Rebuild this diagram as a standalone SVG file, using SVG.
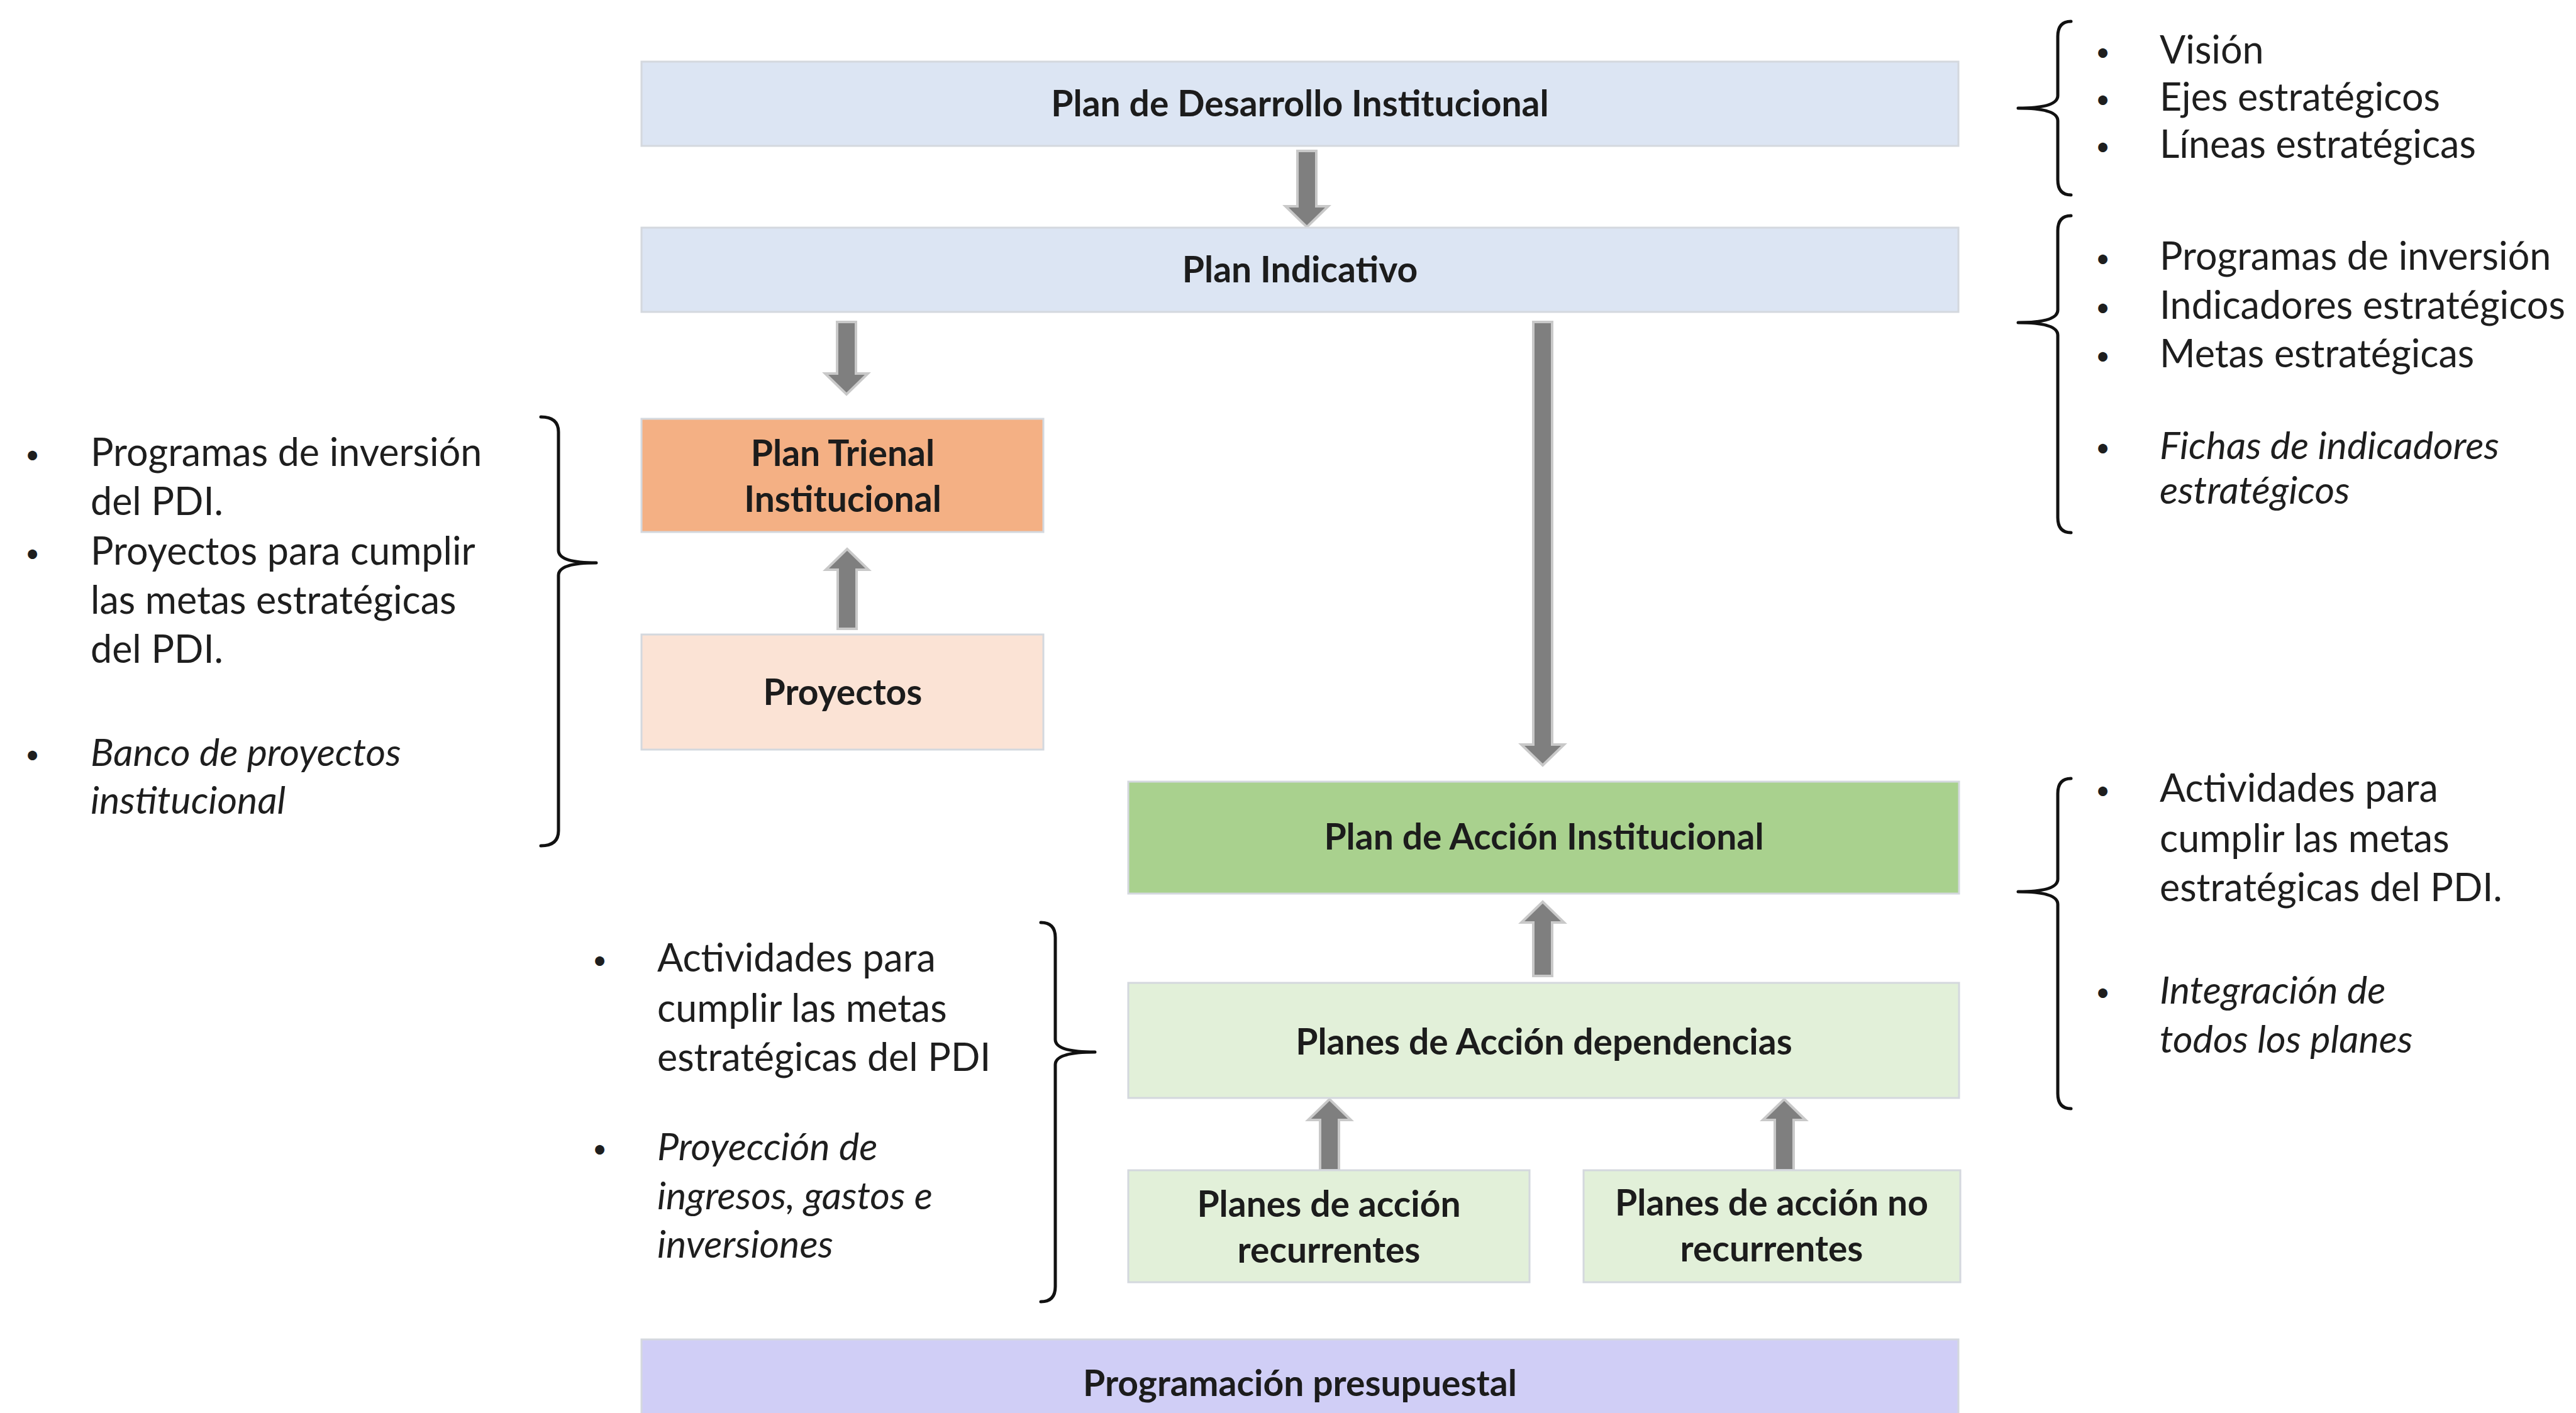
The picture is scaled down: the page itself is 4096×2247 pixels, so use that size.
<svg xmlns="http://www.w3.org/2000/svg" width="4096" height="2247" viewBox="0 0 4096 2247">
  <defs>
    <style>
      .box { stroke: #d4d8de; stroke-width: 3; }
      .blue { fill: #DCE5F3; }
      .orange { fill: #F4B084; }
      .peach { fill: #FBE3D5; }
      .green { fill: #A9D18E; }
      .pale { fill: #E2F0D9; }
      .lilac { fill: #D0CEF6; }
      .lbl { font-family: Lato, "Liberation Sans", sans-serif; font-weight: 700; font-size: 57px; fill: #1c1c1c; text-anchor: middle; }
      .side { font-family: Lato, "Liberation Sans", sans-serif; font-weight: 400; font-size: 61px; fill: #1e1e1e; }
      .bul { font-size: 40px; }
      .it { font-style: italic; }
      .arrow { fill: #7f7f7f; stroke: #c9c9c9; stroke-width: 4; stroke-linejoin: miter; }
      .brace { fill: none; stroke: #111; stroke-width: 5; stroke-linecap: round; stroke-linejoin: round; }
    </style>
  </defs>

  <rect width="4096" height="2247" fill="#ffffff"/>

  <!-- connectors: block arrows -->
  <g id="connectors">
    <!-- Plan de Desarrollo -> Plan Indicativo -->
    <polygon class="arrow" points="2063,240 2093,240 2093,328 2112,328 2078,361 2044,328 2063,328"/>
    <!-- Plan Indicativo -> Plan Trienal -->
    <polygon class="arrow" points="1331,512 1361,512 1361,594 1380,594 1346,627 1312,594 1331,594"/>
    <!-- Plan Indicativo -> Plan de Acción Institucional -->
    <polygon class="arrow" points="2438,512 2468,512 2468,1184 2487,1184 2453,1217 2419,1184 2438,1184"/>
    <!-- Proyectos -> Plan Trienal -->
    <polygon class="arrow" points="1332,1000 1362,1000 1362,906 1381,906 1347,873 1313,906 1332,906"/>
    <!-- Planes dependencias -> Plan de Acción Institucional -->
    <polygon class="arrow" points="2438,1552 2468,1552 2468,1467 2487,1467 2453,1434 2419,1467 2438,1467"/>
    <!-- Recurrentes -> dependencias -->
    <polygon class="arrow" points="2099,1861 2129,1861 2129,1781 2148,1781 2114,1748 2080,1781 2099,1781"/>
    <!-- No recurrentes -> dependencias -->
    <polygon class="arrow" points="2822,1861 2852,1861 2852,1781 2871,1781 2837,1748 2803,1781 2822,1781"/>
  </g>

  <!-- nodes -->
  <g id="node-pdi">
    <rect class="box blue" x="1020" y="98" width="2094" height="134"/>
    <text class="lbl" x="2067" y="185">Plan de Desarrollo Institucional</text>
  </g>
  <g id="node-indicativo">
    <rect class="box blue" x="1020" y="362" width="2094" height="134"/>
    <text class="lbl" x="2067" y="449">Plan Indicativo</text>
  </g>
  <g id="node-trienal">
    <rect class="box orange" x="1020" y="666" width="639" height="180"/>
    <text class="lbl" x="1340" y="741">Plan Trienal</text>
    <text class="lbl" x="1340" y="814">Institucional</text>
  </g>
  <g id="node-proyectos">
    <rect class="box peach" x="1020" y="1009" width="639" height="183"/>
    <text class="lbl" x="1340" y="1121">Proyectos</text>
  </g>
  <g id="node-pai">
    <rect class="box green" x="1794" y="1243" width="1321" height="178"/>
    <text class="lbl" x="2455" y="1351">Plan de Acción Institucional</text>
  </g>
  <g id="node-dependencias">
    <rect class="box pale" x="1794" y="1563" width="1321" height="183"/>
    <text class="lbl" x="2455" y="1677">Planes de Acción dependencias</text>
  </g>
  <g id="node-recurrentes">
    <rect class="box pale" x="1794" y="1861" width="638" height="178"/>
    <text class="lbl" x="2113" y="1935">Planes de acción</text>
    <text class="lbl" x="2113" y="2008">recurrentes</text>
  </g>
  <g id="node-no-recurrentes">
    <rect class="box pale" x="2518" y="1861" width="599" height="178"/>
    <text class="lbl" x="2817" y="1933">Planes de acción no</text>
    <text class="lbl" x="2817" y="2006">recurrentes</text>
  </g>
  <g id="node-programacion">
    <rect class="box lilac" x="1020" y="2130" width="2094" height="130"/>
    <text class="lbl" x="2067" y="2220">Programación presupuestal</text>
  </g>

  <!-- annotation braces -->
  <g id="braces">
    <path class="brace" d="M3293,34 Q3272,34 3272,58 L3272,152 Q3272,172 3209,172 Q3272,172 3272,192 L3272,286 Q3272,310 3293,310"/>
    <path class="brace" d="M3293,343 Q3272,343 3272,367 L3272,493 Q3272,513 3209,513 Q3272,513 3272,533 L3272,823 Q3272,847 3293,847"/>
    <path class="brace" d="M3293,1238 Q3272,1238 3272,1262 L3272,1398 Q3272,1418 3209,1418 Q3272,1418 3272,1438 L3272,1739 Q3272,1763 3293,1763"/>
    <path class="brace" d="M860,663 Q888,663 888,687 L888,875 Q888,895 948,895 Q888,895 888,915 L888,1321 Q888,1345 860,1345"/>
    <path class="brace" d="M1655,1467 Q1678,1467 1678,1491 L1678,1653 Q1678,1673 1741,1673 Q1678,1673 1678,1693 L1678,2046 Q1678,2070 1655,2070"/>
  </g>

  <!-- annotation lists -->
  <g id="list-pdi" class="side">
    <text class="bul" x="3332" y="97">•</text><text x="3434" y="101">Visión</text>
    <text class="bul" x="3332" y="172">•</text><text x="3434" y="176">Ejes estratégicos</text>
    <text class="bul" x="3332" y="247">•</text><text x="3434" y="251">Líneas estratégicas</text>
  </g>
  <g id="list-indicativo" class="side">
    <text class="bul" x="3332" y="425">•</text><text x="3434" y="429">Programas de inversión</text>
    <text class="bul" x="3332" y="503">•</text><text x="3434" y="507">Indicadores estratégicos</text>
    <text class="bul" x="3332" y="580">•</text><text x="3434" y="584">Metas estratégicas</text>
    <text class="bul" x="3332" y="726">•</text><text class="it" x="3434" y="730">Fichas de indicadores</text>
    <text class="it" x="3434" y="801">estratégicos</text>
  </g>
  <g id="list-trienal" class="side">
    <text class="bul" x="40" y="737">•</text><text x="144" y="741">Programas de inversión</text>
    <text x="144" y="819">del PDI.</text>
    <text class="bul" x="40" y="894">•</text><text x="144" y="898">Proyectos para cumplir</text>
    <text x="144" y="976">las metas estratégicas</text>
    <text x="144" y="1054">del PDI.</text>
    <text class="bul" x="40" y="1214">•</text><text class="it" x="144" y="1218">Banco de proyectos</text>
    <text class="it" x="144" y="1294">institucional</text>
  </g>
  <g id="list-dependencias" class="side">
    <text class="bul" x="942" y="1541">•</text><text x="1045" y="1545">Actividades para</text>
    <text x="1045" y="1625">cumplir las metas</text>
    <text x="1045" y="1703">estratégicas del PDI</text>
    <text class="bul" x="942" y="1841">•</text><text class="it" x="1045" y="1845">Proyección de</text>
    <text class="it" x="1045" y="1923">ingresos, gastos e</text>
    <text class="it" x="1045" y="2000">inversiones</text>
  </g>
  <g id="list-pai" class="side">
    <text class="bul" x="3332" y="1271">•</text><text x="3434" y="1275">Actividades para</text>
    <text x="3434" y="1355">cumplir las metas</text>
    <text x="3434" y="1433">estratégicas del PDI.</text>
    <text class="bul" x="3332" y="1592">•</text><text class="it" x="3434" y="1596">Integración de</text>
    <text class="it" x="3434" y="1674">todos los planes</text>
  </g>
</svg>
